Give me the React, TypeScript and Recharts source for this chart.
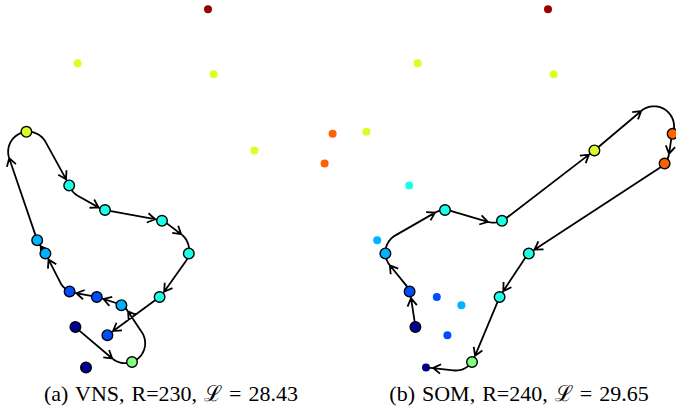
import React from 'react';
import { ScatterChart, Scatter, XAxis, YAxis } from 'recharts';

// ---- data: target nodes (workspace units), reward level (0..1, jet colour scale)
const nodeX = [10.40, 3.88, 10.68, 12.72, 16.63, 16.23, 1.32, 3.46, 5.25, 8.10, 9.44, 7.98, 5.37, 6.07, 4.84, 3.48, 2.27, 1.86, 3.77, 6.60, 4.30];
const nodeY = [18.54, 15.84, 15.29, 11.48, 12.31, 10.82, 12.41, 9.73, 8.50, 7.96, 6.32, 4.15, 2.24, 3.74, 4.15, 4.43, 6.33, 6.99, 2.65, 0.90, 0.63];
const nodeLevel = [0.975, 0.59, 0.59, 0.59, 0.78, 0.78, 0.59, 0.4, 0.4, 0.4, 0.4, 0.4, 0.2, 0.3, 0.2, 0.2, 0.3, 0.3, 0.02, 0.5, 0.02];

// (a) VNS tour: node ids in order, headings (deg, CCW from +x)
const tourA = [19, 20, 14, 15, 16, 17, 18, 7, 8, 9, 10, 11, 12, 13];
const headingA = [-48, 20, 150, 170, 155, 118, 112, 5, -70, -12, -20, -100, -140, -144];
const markedA = [7, 8, 9, 10, 11, 12, 13, 14, 15, 16, 17, 18, 19, 20, 21];

// (b) SOM tour
const tourB = [19, 16, 17, 9, 10, 4, 5, 6, 11, 12, 20, 21];
const headingB = [95, 110, 92, 0, 25, 42, -112, -130, -138, -115, -125, 180];
const markedB = [19, 16, 17, 9, 10, 4, 5, 6, 11, 12, 20];

const captions = ['(a) VNS, R=230, \u2112 = 28.43', '(b) SOM, R=240, \u2112 = 29.65'];

const TURN_RADIUS = 1.0;
const X_MAX = 17;
const Y_MAX = 19;
const PANEL_W = 340;
const PANEL_H = 380;
const PX_PER_UNIT = PANEL_W / X_MAX;

function jet(v: number): string {
  const c = (t: number) => Math.round(255 * Math.max(0, Math.min(1, t)));
  const r = c(1.5 - Math.abs(4 * v - 3));
  const g = c(1.5 - Math.abs(4 * v - 2));
  const b = c(1.5 - Math.abs(4 * v - 1));
  return `rgb(${r},${g},${b})`;
}

// ---- Dubins path geometry
const TAU = Math.PI * 2;
const mod2pi = (a: number) => a - TAU * Math.floor(a / TAU);

function dubinsWords(alpha: number, beta: number, d: number) {
  const sa = Math.sin(alpha), sb = Math.sin(beta), ca = Math.cos(alpha), cb = Math.cos(beta);
  const cab = Math.cos(alpha - beta), dsq = d * d;
  const out: { w: string; s: number[] }[] = [];
  {
    const p2 = 2 + dsq - 2 * cab + 2 * d * (sa - sb);
    if (p2 >= 0) { const t1 = Math.atan2(cb - ca, d + sa - sb); out.push({ w: 'LSL', s: [mod2pi(t1 - alpha), Math.sqrt(p2), mod2pi(beta - t1)] }); }
  }
  {
    const p2 = 2 + dsq - 2 * cab + 2 * d * (sb - sa);
    if (p2 >= 0) { const t1 = Math.atan2(ca - cb, d - sa + sb); out.push({ w: 'RSR', s: [mod2pi(alpha - t1), Math.sqrt(p2), mod2pi(t1 - beta)] }); }
  }
  {
    const p2 = -2 + dsq + 2 * cab + 2 * d * (sa + sb);
    if (p2 >= 0) { const p = Math.sqrt(p2); const t0 = Math.atan2(-ca - cb, d + sa + sb) - Math.atan2(-2, p); out.push({ w: 'LSR', s: [mod2pi(t0 - alpha), p, mod2pi(t0 - mod2pi(beta))] }); }
  }
  {
    const p2 = -2 + dsq + 2 * cab - 2 * d * (sa + sb);
    if (p2 >= 0) { const p = Math.sqrt(p2); const t0 = Math.atan2(ca + cb, d - sa - sb) - Math.atan2(2, p); out.push({ w: 'RSL', s: [mod2pi(alpha - t0), p, mod2pi(beta - t0)] }); }
  }
  {
    const c = (6 - dsq + 2 * cab + 2 * d * (sa - sb)) / 8; const phi = Math.atan2(ca - cb, d - sa + sb);
    if (Math.abs(c) <= 1) { const p = mod2pi(TAU - Math.acos(c)); const t = mod2pi(alpha - phi + mod2pi(p / 2)); out.push({ w: 'RLR', s: [t, p, mod2pi(alpha - beta - t + mod2pi(p))] }); }
  }
  {
    const c = (6 - dsq + 2 * cab + 2 * d * (sb - sa)) / 8; const phi = Math.atan2(ca - cb, d + sa - sb);
    if (Math.abs(c) <= 1) { const p = mod2pi(TAU - Math.acos(c)); const t = mod2pi(-alpha - phi + p / 2); out.push({ w: 'LRL', s: [t, p, mod2pi(mod2pi(beta) - alpha - t + mod2pi(p))] }); }
  }
  return out;
}

function stepConf(kind: string, len: number, q: number[]) {
  const [x, y, th] = q;
  if (kind === 'L') return [x + Math.sin(th + len) - Math.sin(th), y - Math.cos(th + len) + Math.cos(th), th + len];
  if (kind === 'R') return [x - Math.sin(th - len) + Math.sin(th), y + Math.cos(th - len) - Math.cos(th), th - len];
  return [x + Math.cos(th) * len, y + Math.sin(th) * len, th];
}

function dubinsSegment(p0: number[], h0: number, p1: number[], h1: number, rho: number) {
  const dx = p1[0] - p0[0], dy = p1[1] - p0[1];
  const D = Math.hypot(dx, dy);
  const d = D / rho;
  const theta = d > 0 ? mod2pi(Math.atan2(dy, dx)) : 0;
  const alpha = mod2pi(h0 - theta), beta = mod2pi(h1 - theta);
  let best: any = null;
  for (const cand of dubinsWords(alpha, beta, d)) {
    const pts: number[][] = [[p0[0], p0[1]]];
    let q = [0, 0, h0];
    const marks: number[] = [];
    let cum = 0;
    for (let k = 0; k < 3; k++) {
      const kind = cand.w[k], len = cand.s[k];
      const n = kind === 'S' ? 1 : Math.max(1, Math.ceil((len * rho) / 1.5));
      for (let i = 1; i <= n; i++) {
        const qi = stepConf(kind, (len * i) / n, q);
        pts.push([p0[0] + qi[0] * rho, p0[1] + qi[1] * rho]);
      }
      q = stepConf(kind, len, q);
      cum += len * rho;
      marks.push(cum);
    }
    const ex = p0[0] + q[0] * rho, ey = p0[1] + q[1] * rho;
    const angErr = Math.abs(Math.atan2(Math.sin(q[2] - h1), Math.cos(q[2] - h1)));
    if (Math.hypot(ex - p1[0], ey - p1[1]) > 0.5 || angErr > 0.01) continue;
    if (!best || cum < best.total) best = { pts, marks, total: cum };
  }
  if (!best) best = { pts: [p0, p1], marks: [0, D, D], total: D };
  return best;
}

function pointAt(pts: number[][], s: number) {
  let acc = 0;
  for (let i = 1; i < pts.length; i++) {
    const a = pts[i - 1], b = pts[i];
    const l = Math.hypot(b[0] - a[0], b[1] - a[1]);
    if (l === 0) continue;
    if (acc + l >= s || i === pts.length - 1) {
      const f = Math.max(0, Math.min(1, (s - acc) / l));
      return { x: a[0] + (b[0] - a[0]) * f, y: a[1] + (b[1] - a[1]) * f, ang: Math.atan2(b[1] - a[1], b[0] - a[0]) };
    }
    acc += l;
  }
  const last = pts[pts.length - 1];
  return { x: last[0], y: last[1], ang: 0 };
}

function makeDubinsCurve(headingsDeg: number[], rhoPx: number) {
  // headings given in data frame (y up); the screen frame has y down
  const hs = headingsDeg.map((h) => (-h * Math.PI) / 180);
  return function (context: any) {
    let pts: number[][] = [];
    return {
      areaStart() {},
      areaEnd() {},
      lineStart() { pts = []; },
      point(x: number, y: number) { pts.push([+x, +y]); },
      lineEnd() {
        if (pts.length < 2) return;
        const segs = [];
        for (let i = 0; i < pts.length - 1; i++) {
          segs.push(dubinsSegment(pts[i], hs[i], pts[i + 1], hs[i + 1], rhoPx));
        }
        context.moveTo(pts[0][0], pts[0][1]);
        for (const sg of segs) {
          for (let k = 1; k < sg.pts.length; k++) context.lineTo(sg.pts[k][0], sg.pts[k][1]);
        }
        const AL = 9, AW = 0.55;
        for (const sg of segs) {
          let s = Math.min(sg.marks[1], sg.total - 7);
          s = Math.max(s, sg.total * 0.25);
          const p = pointAt(sg.pts, s);
          context.moveTo(p.x - AL * Math.cos(p.ang - AW), p.y - AL * Math.sin(p.ang - AW));
          context.lineTo(p.x, p.y);
          context.lineTo(p.x - AL * Math.cos(p.ang + AW), p.y - AL * Math.sin(p.ang + AW));
        }
      },
    };
  };
}

const PlainDot = (p: any) => <circle cx={p.cx} cy={p.cy} r={4} fill={jet(p.payload.level)} />;
const RingDot = (p: any) => (
  <circle cx={p.cx} cy={p.cy} r={5.3} fill={jet(p.payload.level)} stroke="#000" strokeWidth={1.4} />
);
const NoDot = () => <g />;

function Panel({ tour, headings, marked, left }: { tour: number[]; headings: number[]; marked: number[]; left: number }) {
  const all = nodeX.map((x, i) => ({ id: i + 1, x, y: nodeY[i], level: nodeLevel[i] }));
  const plain = all.filter((n) => !marked.includes(n.id));
  const ringed = all.filter((n) => marked.includes(n.id));
  const tourData = tour.map((id) => ({ x: nodeX[id - 1], y: nodeY[id - 1] }));
  const curve = makeDubinsCurve(headings, TURN_RADIUS * PX_PER_UNIT);
  return (
    <div style={{ position: 'absolute', left, top: 0 }}>
      <ScatterChart width={PANEL_W} height={PANEL_H} margin={{ top: 0, right: 0, bottom: 0, left: 0 }}>
        <XAxis type="number" dataKey="x" domain={[0, X_MAX]} hide />
        <YAxis type="number" dataKey="y" domain={[0, Y_MAX]} hide />
        <Scatter data={plain} isAnimationActive={false} shape={PlainDot} />
        <Scatter
          data={tourData}
          isAnimationActive={false}
          fill="none"
          line={{ stroke: '#000', strokeWidth: 1.8, fill: 'none' }}
          lineType="joint"
          lineJointType={curve as any}
          shape={NoDot}
        />
        <Scatter data={ringed} isAnimationActive={false} shape={RingDot} />
      </ScatterChart>
    </div>
  );
}

const captionStyle = { wordSpacing: '1.5px' } as React.CSSProperties;

export default function App() {
  return (
    <div style={{ position: 'absolute', left: 0, top: 0, width: 676, height: 410, overflow: 'hidden', background: '#fff' }}>
      <Panel tour={tourA} headings={headingA} marked={markedA} left={0} />
      <Panel tour={tourB} headings={headingB} marked={markedB} left={340} />
      <svg width={676} height={410} style={{ position: 'absolute', left: 0, top: 0, pointerEvents: 'none' }}>
        <text x={171} y={401} textAnchor="middle" fontFamily="'Liberation Serif', 'DejaVu Serif', serif" fontSize={22} fill="#000" style={captionStyle}>
          {captions[0]}
        </text>
        <text x={519} y={401} textAnchor="middle" fontFamily="'Liberation Serif', 'DejaVu Serif', serif" fontSize={22} fill="#000" style={captionStyle}>
          {captions[1]}
        </text>
      </svg>
    </div>
  );
}
